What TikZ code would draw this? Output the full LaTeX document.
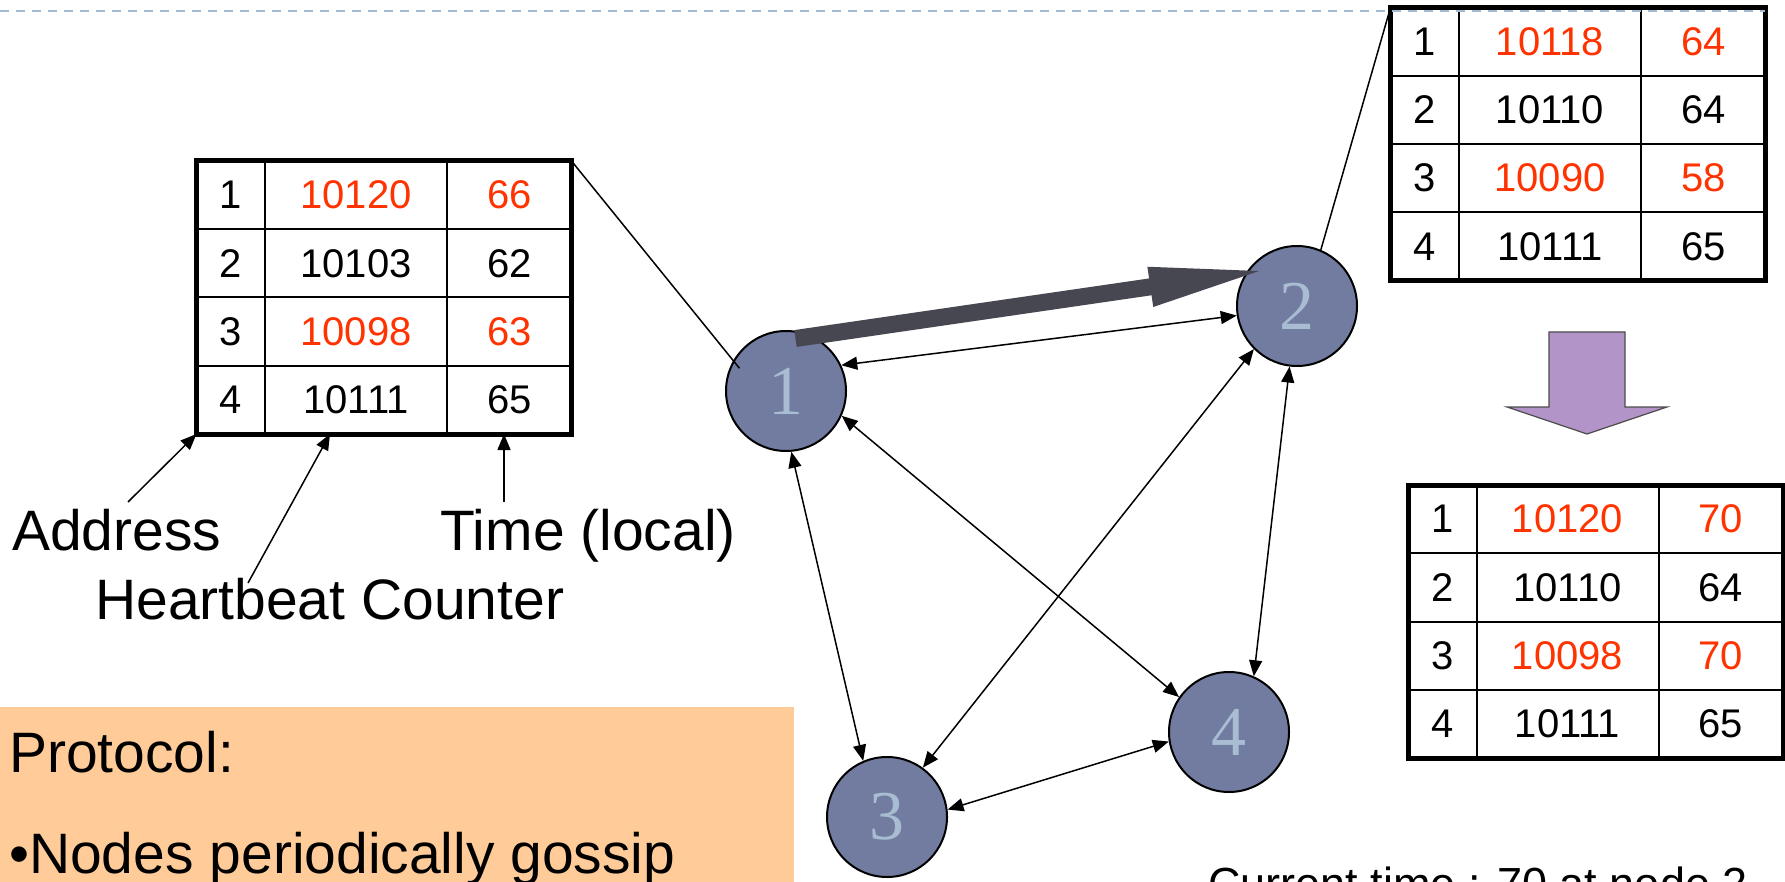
\documentclass[tikz,border=0pt]{standalone}
\usepackage{fontspec}
\setmainfont{Liberation Sans}
\newfontfamily\nodefont{Liberation Serif}
\usetikzlibrary{arrows.meta,calc}

\definecolor{hot}{RGB}{255,51,0}
\definecolor{nodefill}{RGB}{114,123,160}
\definecolor{nodetext}{RGB}{168,188,210}
\definecolor{gossipgray}{RGB}{71,71,82}
\definecolor{lavender}{RGB}{178,148,200}
\definecolor{peach}{RGB}{255,204,153}
\definecolor{slideline}{RGB}{165,185,210}

\tikzset{
  member/.style={shape=circle, draw=black, line width=2pt, fill=nodefill, minimum size=120pt, inner sep=0pt, text=nodetext, font=\nodefont\fontsize{70}{70}\selectfont},
  link/.style={{Triangle[length=16pt,width=13pt]}-{Triangle[length=16pt,width=13pt]}, line width=1.5pt},
  pointer/.style={-{Triangle[length=16pt,width=13pt]}, line width=1.5pt},
  zoomline/.style={line width=1.5pt},
  tablebox/.style={draw=black, line width=5pt, minimum width=375pt, minimum height=273pt, inner sep=0pt, outer sep=0pt, anchor=north west},
  gridline/.style={line width=2pt},
  cell/.style={inner sep=0pt, font=\fontsize{40}{40}\selectfont},
  bigtext/.style={inner sep=0pt, anchor=base west, font=\fontsize{57}{62}\selectfont},
  gossip/.style={line width=17pt, draw=gossipgray, -{Triangle[length=124pt,width=35pt]}}
}

% membership list: name, top left corner, rows
\newcommand{\memtable}[3]{%
  \node[tablebox] (#1) at (#2) {};
  \foreach \dx in {68.5,250.5}
    \draw[gridline] ($(#1.north west)+(\dx,0)$) -- ($(#1.south west)+(\dx,0)$);
  \foreach \k in {1,2,3}
    \draw[gridline] ($(#1.north west)+(0,{\k*68.25})$) -- ($(#1.north east)+(0,{\k*68.25})$);
  \foreach \addr/\hb/\tm/\col [count=\k] in {#3} {
    \node[cell] (#1-\k-a) at ($(#1.north west)+(34.25,{(\k-0.5)*68.25})$) {\addr};
    \node[cell, text=\col] (#1-\k-b) at ($(#1.north west)+(159.5,{(\k-0.5)*68.25})$) {\hb};
    \node[cell, text=\col] (#1-\k-c) at ($(#1.north west)+(312.75,{(\k-0.5)*68.25})$) {\tm};
  }%
}

\begin{document}
\begin{tikzpicture}[x=1pt, y=-1pt]

    \useasboundingbox (0,0) rectangle (1785,882);
    \fill[white] (0,0) rectangle (1785,882);

    \fill[peach] (0,707) rectangle (794,882);

    \memtable{tab1}{196.5,161}{1/10120/66/hot, 2/10103/62/black, 3/10098/63/hot, 4/10111/65/black}
    \memtable{tab2}{1390.5,7.5}{1/10118/64/hot, 2/10110/64/black, 3/10090/58/hot, 4/10111/65/black}
    \memtable{tab3}{1408,485}{1/10120/70/hot, 2/10110/64/black, 3/10098/70/hot, 4/10111/65/black}

    \draw[slideline, line width=2.5pt, dash pattern=on 9pt off 7pt] (0,11) -- (1765,11);

    \node[member] (n1) at (786,391)  {1};
    \node[member] (n2) at (1297,306) {2};
    \node[member] (n3) at (887,817)  {3};
    \node[member] (n4) at (1229,732) {4};

    \path[link] (n1.25)  edge (n2.189);
    \path[link] (n1.-24) edge (n4.145);
    \path[link] (n1.-85) edge (n3.113);
    \path[link] (n2.225) edge (n3.54);
    \path[link] (n2.263) edge (n4.66);
    \path[link] (n3.7)   edge (n4.189);

    \draw[zoomline, shorten >=-10pt] (tab1.north east) -- (n1.150);
    \draw[zoomline] (tab2.north west) -- (n2.67);

    \coordinate (gtail) at ($(n1)+(9.5,-52.5)$);
    \coordinate (ghead) at ($(n2)+(-24,-37)$);
    \draw[gossip] (gtail) -- (ghead);

    \draw[draw=black!70, fill=lavender, line width=1.2pt] (1549,332) -- (1625,332) -- (1625,407) -- (1667,407) -- (1587,434) -- (1507,407) -- (1549,407) -- cycle;

    \node[bigtext] (addr) at (12,550) {Address};
    \node[bigtext] (time) at (440,550) {Time (local)};
    \node[bigtext] (hbc)  at (95,619)  {Heartbeat Counter};

    \coordinate (addrtail) at (128,502);
    \coordinate (hbtail)   at (248,583);
    \coordinate (timetail) at (504,502);
    \coordinate (hbhead)   at ($(tab1.south west)+(133.5,0)$);
    \coordinate (timehead) at ($(tab1.south west)+(307.5,0)$);
    \draw[pointer] (addrtail) -- (tab1.south west);
    \draw[pointer] (hbtail) -- (hbhead);
    \draw[pointer] (timetail) -- (timehead);

    \node[bigtext] (proto) at (9,772) {Protocol:};
    \node[bigtext] (rule)  at (9,873) {•Nodes periodically gossip};
    \node[bigtext, font=\fontsize{45}{50}\selectfont] (now) at (1208,899) {Current time : 70 at node 2};

\end{tikzpicture}
\end{document}
